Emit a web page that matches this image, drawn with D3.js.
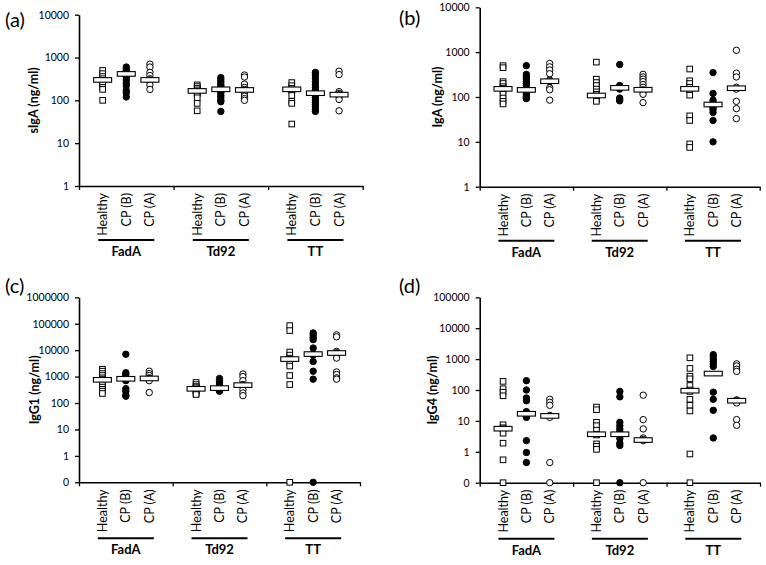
<!DOCTYPE html>
<html><head><meta charset="utf-8">
<script src="https://cdn.jsdelivr.net/npm/d3@7"></script>
<style>
body{margin:0;background:#fff}
text{font-family:Lato,"Open Sans","Liberation Sans",sans-serif;fill:#000}
</style>
</head><body>
<svg id="chart" width="766" height="565"></svg>
<script>
// ---------- data ----------
const categories = ["Healthy", "CP (B)", "CP (A)"];
const groups = ["FadA", "Td92", "TT"];
const panelLetters = ["(a)", "(b)", "(c)", "(d)"];
const axisTitles = ["sIgA (ng/ml)", "IgA (ng/ml)", "IgG1 (ng/ml)", "IgG4 (ng/ml)"];

// each group: [Healthy, CP (B), CP (A)]
const sIgA_FadA = [[500,420,360,320,290,270,240,200,180,100],[600,550,500,470,430,400,380,350,300,250,220,170,150,120],[700,600,450,380,320,300,290,270,230,180]];
const sIgA_Td92 = [[230,210,190,175,160,150,140,115,85,57],[340,300,270,240,220,200,185,175,160,150,130,115,100,93,55],[390,350,240,200,180,170,150,125,110,100]];
const sIgA_TT   = [[260,220,190,175,165,130,95,85,28],[450,400,330,270,230,200,175,160,145,130,115,100,90,80,70,62,55],[480,400,160,145,135,120,105,57]];
const sIgA_med  = [[300,414,300],[166,181,175],[181,147,136]];

const IgA_FadA = [[500,450,220,200,170,155,140,115,95,80,70],[500,320,280,250,220,200,180,160,145,135,125,115,105,100,95,92],[560,470,400,330,240,230,220,160,145,85]];
const IgA_Td92 = [[600,250,210,180,150,130,115,105,95,88,80],[530,180,170,160,150,95,88,82],[320,280,250,220,190,165,145,130,115,75]];
const IgA_TT   = [[420,230,200,165,150,145,110,38,30,9,7.5],[350,120,85,75,68,62,57,52,45,30,10],[1100,340,280,165,150,80,55,33]];
const IgA_med  = [[152,144,225],[108,160,145],[152,68,157]];

const IgG1_FadA = [[1900,1600,1300,1100,900,800,700,600,500,400,330,280,230],[7000,1400,1200,1000,900,800,750,700,350,280,200,180],[1600,1300,1100,900,850,800,700,250]];
const IgG1_Td92 = [[600,500,420,380,340,320,300,260,230,210],[850,700,600,480,400,360,340,320,300,280],[1250,1000,700,500,480,450,320,240,190]];
const IgG1_TT   = [[85000,55000,8500,6500,5000,4500,3500,2500,1100,500,0],[45000,38000,30000,25000,12000,7000,6500,3700,1600,800,0],[38000,32000,9000,8000,7500,5000,1500,1200,900,800]];
const IgG1_med  = [[755,825,850],[345,366,475],[4600,7100,7800]];

const IgG4_FadA = [[190,110,85,65,7.5,6,5.5,4,1.9,0.55,0],[200,100,55,45,20,17,15,14,13,2.3,0.95,0.45],[50,40,32,15,14,13,0.45,0]];
const IgG4_Td92 = [[28,23,9,7,5,3.7,3.5,1.8,1.5,1.2,0],[90,60,9,7,5.5,4.5,3.8,3.5,2.7,1.9,1.6,0],[68,11,5.5,2.8,2.5,2.3,0]];
const IgG4_TT   = [[1100,500,280,230,140,100,90,50,32,21,0.85,0],[1400,1200,1000,850,700,580,85,50,22,2.8],[700,600,470,400,48,45,38,11,7.2]];
const IgG4_med  = [[5.6,17,14.5],[3.7,3.7,2.4],[95,340,45]];

const yDomains = [[1,1e4],[1,1e4],[0.1,1e6],[0.1,1e5]];

// ---------- layout ----------
const layout = [
  {x0:79,   x1:362.7, yT:14.7,  yB:186,   lx:5,   ly:27,  tx:38,  lineDy:54, labDy:70},
  {x0:479.7,x1:759.7, yT:7.3,   yB:186.7, lx:399, ly:25,  tx:442, lineDy:54, labDy:70},
  {x0:79,   x1:360,   yT:297.3, yB:482.3, lx:5,   ly:293, tx:39,  lineDy:56, labDy:72},
  {x0:479.7,x1:760,   yT:297.3, yB:482.7, lx:399, ly:293, tx:437, lineDy:56, labDy:72}
];
const panelData = [
  [sIgA_FadA, sIgA_Td92, sIgA_TT],
  [IgA_FadA, IgA_Td92, IgA_TT],
  [IgG1_FadA, IgG1_Td92, IgG1_TT],
  [IgG4_FadA, IgG4_Td92, IgG4_TT]
];
const panelMed = [sIgA_med, IgA_med, IgG1_med, IgG4_med];

const svg = d3.select("#chart");

layout.forEach((L, p) => {
  const g = svg.append("g");
  const dom = yDomains[p];
  const x = d3.scaleLinear().domain([0, 12]).range([L.x0, L.x1]);
  const y = d3.scaleLog().domain(dom).range([L.yB, L.yT]);
  const lo = Math.round(Math.log10(dom[0])), hi = Math.round(Math.log10(dom[1]));
  const tv = d3.range(lo, hi + 1).map(e => e < 0 ? +(Math.pow(10, e)).toFixed(-e) : Math.pow(10, e));
  const yv = v => y(Math.max(v, dom[0]));

  // y axis
  const ya = g.append("g").attr("transform", `translate(${L.x0},0)`)
    .call(d3.axisLeft(y).tickValues(tv).tickFormat(d => d < 1 ? "0" : String(d))
      .tickSizeInner(4).tickSizeOuter(0).tickPadding(6));
  ya.select(".domain").attr("stroke", "#000").attr("stroke-width", 1.6);
  ya.selectAll(".tick line").attr("stroke", "#000").attr("stroke-width", 1.3);
  ya.selectAll(".tick text").style("font-size", "10.5px").style("font-family", "Lato, sans-serif");

  // x axis
  const xa = g.append("g").attr("transform", `translate(0,${L.yB})`)
    .call(d3.axisBottom(x).tickValues([0, 4, 8, 12]).tickFormat("")
      .tickSizeInner(4).tickSizeOuter(0));
  xa.select(".domain").attr("stroke", "#000").attr("stroke-width", 1.6);
  xa.selectAll(".tick line").attr("stroke", "#000").attr("stroke-width", 1.3);

  // axis title
  g.append("text")
    .attr("transform", `translate(${L.tx},${(L.yT + L.yB) / 2}) rotate(-90)`)
    .attr("text-anchor", "middle")
    .style("font-size", "12.5px").style("font-weight", "bold")
    .text(axisTitles[p]);

  // panel letter
  g.append("text").attr("x", L.lx).attr("y", L.ly)
    .style("font-size", "20px").text(panelLetters[p]);

  // category & group labels
  groups.forEach((gn, gi) => {
    categories.forEach((cn, ci) => {
      const cx = x(gi * 4 + ci + 1);
      g.append("text")
        .attr("transform", `translate(${cx},${L.yB + 7}) rotate(-90)`)
        .attr("text-anchor", "end").attr("dy", "0.36em")
        .style("font-size", "12.5px").text(cn);
    });
    const gc = x(gi * 4 + 2);
    g.append("line").attr("x1", gc - 28).attr("x2", gc + 28)
      .attr("y1", L.yB + L.lineDy).attr("y2", L.yB + L.lineDy)
      .attr("stroke", "#000").attr("stroke-width", 2);
    g.append("text").attr("x", gc).attr("y", L.yB + L.labDy)
      .attr("text-anchor", "middle")
      .style("font-size", "13px").style("font-weight", "bold").text(gn);
  });

  // points
  panelData[p].forEach((grp, gi) => {
    grp.forEach((vals, ci) => {
      const cx = x(gi * 4 + ci + 1);
      if (ci === 0) {
        g.selectAll(null).data(vals).enter().append("rect")
          .attr("x", cx - 2.8).attr("y", d => yv(d) - 2.8)
          .attr("width", 5.6).attr("height", 5.6)
          .attr("fill", "#fff").attr("stroke", "#000").attr("stroke-width", 1);
      } else {
        g.selectAll(null).data(vals).enter().append("circle")
          .attr("cx", cx).attr("cy", d => yv(d)).attr("r", 3.2)
          .attr("fill", ci === 1 ? "#000" : "#fff")
          .attr("stroke", "#000").attr("stroke-width", 1);
      }
    });
    // median bars
    panelMed[p][gi].forEach((m, ci) => {
      const cx = x(gi * 4 + ci + 1);
      g.append("rect").attr("x", cx - 9).attr("y", yv(m) - 2.3)
        .attr("width", 18).attr("height", 4.6)
        .attr("fill", "#fff").attr("stroke", "#000").attr("stroke-width", 1.1);
    });
  });
});
</script>
</body></html>
